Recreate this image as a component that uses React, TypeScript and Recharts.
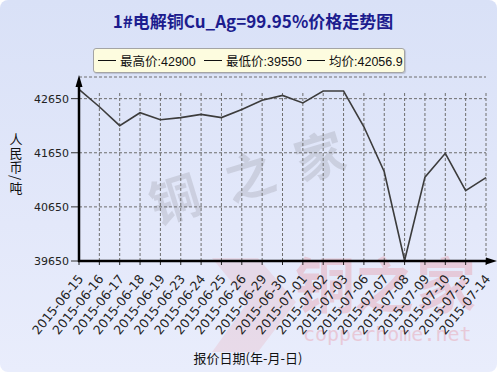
import React from "react";
import { LineChart, Line, XAxis, YAxis, CartesianGrid, ReferenceLine } from "recharts";

const dates = [
  "2015-06-15", "2015-06-16", "2015-06-17", "2015-06-18", "2015-06-19",
  "2015-06-23", "2015-06-24", "2015-06-25", "2015-06-26", "2015-06-29",
  "2015-06-30", "2015-07-01", "2015-07-02", "2015-07-03", "2015-07-06",
  "2015-07-07", "2015-07-08", "2015-07-09", "2015-07-10", "2015-07-13",
  "2015-07-14",
];
const prices = [
  42820, 42500, 42150, 42390, 42260,
  42300, 42360, 42300, 42450, 42620,
  42710, 42570, 42790, 42790, 42130,
  41300, 39660, 41200, 41640, 40950,
  41190,
];
const yTicks = [39650, 40650, 41650, 42650];
const yDomain = [39650, 43050];
const gridTop = 42770;
const legendItems = ["最高价:42900", "最低价:39550", "均价:42056.9"];
const titleText = "1#电解铜Cu_Ag=99.95%价格走势图";
const yLabel = "人民币/吨";
const xTitle = "报价日期(年-月-日)";

const data = dates.map((d, i) => ({ date: d, price: prices[i] }));

const W = 500;
const H = 375;
const M = { top: 77, right: 14, bottom: 0, left: 0 };
const YW = 79;
const XH = 114;
const AXIS_Y = H - M.bottom - XH;
const PLOT_L = M.left + YW;

const XTick = (props: any) => {
  const { x, y, payload } = props;
  const ax = x + 5;
  const ay = y + 12;
  return (
    <text
      x={ax}
      y={ay}
      transform={`rotate(-51 ${ax} ${ay})`}
      textAnchor="end"
      fontSize={12.5}
      fontFamily="DejaVu Sans"
      fill="#222"
    >
      {payload.value}
    </text>
  );
};

export default function App() {
  return (
    <div style={{ position: "absolute", left: 0, top: 0, width: W, height: H, background: "#ffffff", overflow: "hidden" }}>
      <div
        style={{
          position: "absolute", left: 0, top: 0, width: 497, height: 372, borderRadius: 8,
          background: "linear-gradient(180deg, #d9e1f7 0%, #e3e8fa 60%, #e9edfc 100%)",
        }}
      />
      <svg width={W} height={H} style={{ position: "absolute", left: 0, top: 0 }}>
        <g fill="#8c8c96" opacity={0.25} fontFamily="Noto Sans CJK SC" fontSize={50} fontWeight={700} textAnchor="middle">
          <text x={175} y={218} transform="rotate(-17 175 200)">铜</text>
          <text x={250} y={195} transform="rotate(-17 250 177)">之</text>
          <text x={320} y={175} transform="rotate(-17 320 157)">家</text>
        </g>
        <path d="M212 258 L258 258 L296 302 L258 352 L212 352 L248 302 Z" fill="#e88a96" opacity={0.18} />
        <g fill="#e88a96" opacity={0.32} fontFamily="Noto Sans CJK SC" fontSize={60} fontWeight={700} textAnchor="middle">
          <text x={325} y={308}>铜</text>
          <text x={384} y={308}>之</text>
          <text x={446} y={308}>家</text>
        </g>
        <text x={303} y={341} fill="#e88a96" opacity={0.35} fontFamily="DejaVu Sans Mono" fontSize={20}>copperhome.net</text>
      </svg>

      <div
        style={{
          position: "absolute", left: 3, top: 9, width: W, textAlign: "center",
          fontFamily: "'Noto Sans CJK SC'", fontSize: 17, fontWeight: 700, color: "#1c1c8e", lineHeight: "24px",
        }}
      >
        {titleText}
      </div>

      <div
        style={{
          position: "absolute", left: 93, top: 48, width: 310, height: 23,
          background: "#fdfcdf", border: "1px solid #a4a4a4", borderRadius: 3,
          boxShadow: "1px 1px 1px rgba(0,0,0,0.15)",
          fontFamily: "'Liberation Sans', 'Noto Sans CJK SC'", fontSize: 12.5, color: "#111",
        }}
      >
        {legendItems.map((t, i) => (
          <div key={t} style={{ position: "absolute", left: [4, 110, 213][i], top: 0, height: 23, display: "flex", alignItems: "center", whiteSpace: "nowrap" }}>
            <span style={{ display: "inline-block", width: 18, height: 0, borderTop: "1px solid #111", marginRight: 4 }} />
            <span>{t}</span>
          </div>
        ))}
      </div>

      <div style={{ position: "absolute", left: 0, top: 0 }}>
        <LineChart width={W} height={H} data={data} margin={M}>
          <CartesianGrid vertical={false} stroke="#6e6e6e" strokeDasharray="3 2" />
          {dates.map((d) => (
            <ReferenceLine
              key={d}
              segment={[{ x: d, y: yDomain[0] }, { x: d, y: gridTop }]}
              stroke="#6e6e6e"
              strokeDasharray="3 2"
            />
          ))}
          <XAxis
            dataKey="date"
            interval={0}
            height={XH}
            axisLine={false}
            tickLine={{ stroke: "#222" }}
            tickSize={4}
            tick={<XTick />}
          />
          <YAxis
            domain={yDomain}
            ticks={yTicks}
            width={YW}
            axisLine={false}
            tickLine={{ stroke: "#333" }}
            tickSize={8}
            tickMargin={2}
            tick={{ fontSize: 11, fontFamily: "DejaVu Sans", fill: "#222" }}
          />
          <Line
            type="linear"
            dataKey="price"
            stroke="#3c3c3c"
            strokeWidth={1.6}
            dot={false}
            isAnimationActive={false}
          />
        </LineChart>
      </div>

      <svg width={W} height={H} style={{ position: "absolute", left: 0, top: 0, pointerEvents: "none" }}>
        <line x1={PLOT_L} y1={AXIS_Y + 1} x2={PLOT_L} y2={84} stroke="#000" strokeWidth={2.5} />
        <polygon points={`${PLOT_L},75 ${PLOT_L - 3.5},87 ${PLOT_L + 3.5},87`} fill="#000" />
        <line x1={PLOT_L - 1} y1={AXIS_Y} x2={488} y2={AXIS_Y} stroke="#000" strokeWidth={2.5} />
        <polygon points={`497,${AXIS_Y} 486,${AXIS_Y - 3.5} 486,${AXIS_Y + 3.5}`} fill="#000" />
        <text
          x={16}
          y={133}
          fontFamily="Noto Sans CJK SC"
          fontSize={13}
          fill="#111"
          style={{ writingMode: "vertical-rl", letterSpacing: 1 }}
        >
          {yLabel}
        </text>
        <text x={248} y={363} fontFamily="Noto Sans CJK SC" fontSize={13} fill="#111" textAnchor="middle">{xTitle}</text>
      </svg>
    </div>
  );
}
